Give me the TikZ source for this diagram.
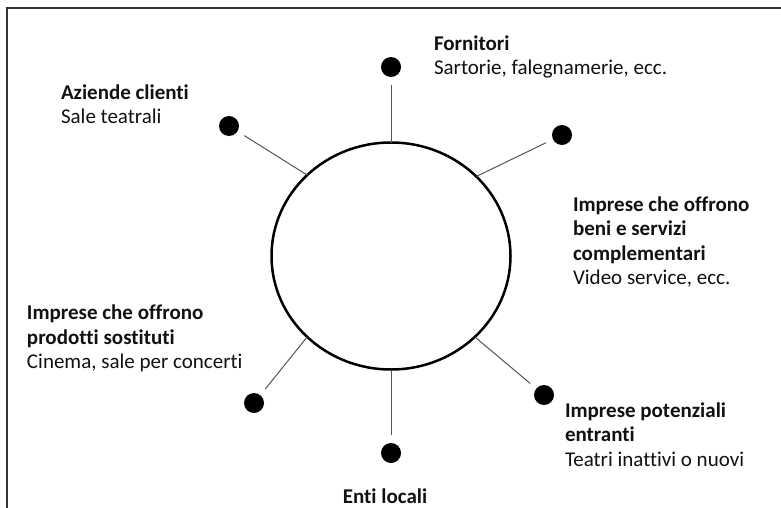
\documentclass[tikz,border=0pt]{standalone}
\usepackage{fontspec}
\setmainfont{Carlito}[RawFeature={-liga;-clig}]
\usetikzlibrary{shapes.geometric}

\definecolor{framegray}{HTML}{333333}
\definecolor{spokegray}{HTML}{555555}
\definecolor{inkblack}{HTML}{111111}

\begin{document}
\begin{tikzpicture}[x=1pt,y=-1pt,
  frameline/.style={line width=1.5pt,color=framegray},
  hub/.style={ellipse,draw=black,line width=2.5pt,fill=white,
    minimum width=239pt,minimum height=227pt,inner sep=0pt,outer sep=0pt},
  dot/.style={circle,fill=black,minimum size=20pt,inner sep=0pt,outer sep=0pt},
  spoke/.style={line width=1pt,color=spokegray,shorten >=8pt},
  caption/.style={inner sep=0pt,outer sep=0pt,align=left,text=inkblack,
    font=\fontsize{21}{24.5}\selectfont}
]
\useasboundingbox (0,0) rectangle (781,508);

% open frame: left and top edges only
\draw[frameline] (7,508) -- (7,8) -- (781,8);

% central circle
\node[hub] (c) at (391,256) {};

% satellite dots
\node[dot] (top) at (391,67) {};
\node[dot] (ul)  at (229,126) {};
\node[dot] (ur)  at (562,135) {};
\node[dot] (ll)  at (254,403) {};
\node[dot] (bot) at (391,453) {};
\node[dot] (lr)  at (544,395) {};

% spokes from the circle towards the dots
\draw[spoke] (c.90)    -- (top);
\draw[spoke] (c.136.7) -- (ul);
\draw[spoke] (c.43.3)  -- (ur);
\draw[spoke] (c.224)   -- (ll);
\draw[spoke] (c.270)   -- (bot);
\draw[spoke] (c.316.7) -- (lr);

% captions
\node[caption,anchor=north west] (tFor) at (434,32.9)
  {\strut\textbf{Fornitori}\\Sartorie, falegnamerie, ecc.};
\node[caption,anchor=north west] (tAz) at (61,81.9)
  {\strut\textbf{Aziende clienti}\\Sale teatrali};
\node[caption,anchor=north west] (tCompl) at (573,193.9)
  {\strut\textbf{Imprese che offrono}\\\textbf{beni e servizi}\\\textbf{complementari}\\Video service, ecc.};
\node[caption,anchor=north west] (tSost) at (27,302.4)
  {\strut\textbf{Imprese che offrono}\\\textbf{prodotti sostituti}\\Cinema, sale per concerti};
\node[caption,anchor=north west] (tPot) at (565,399.9)
  {\strut\textbf{Imprese potenziali}\\\textbf{entranti}\\Teatri inattivi o nuovi};
\node[caption,anchor=base] (tEnti) at (385,503)
  {\textbf{Enti locali}};
\end{tikzpicture}
\end{document}
